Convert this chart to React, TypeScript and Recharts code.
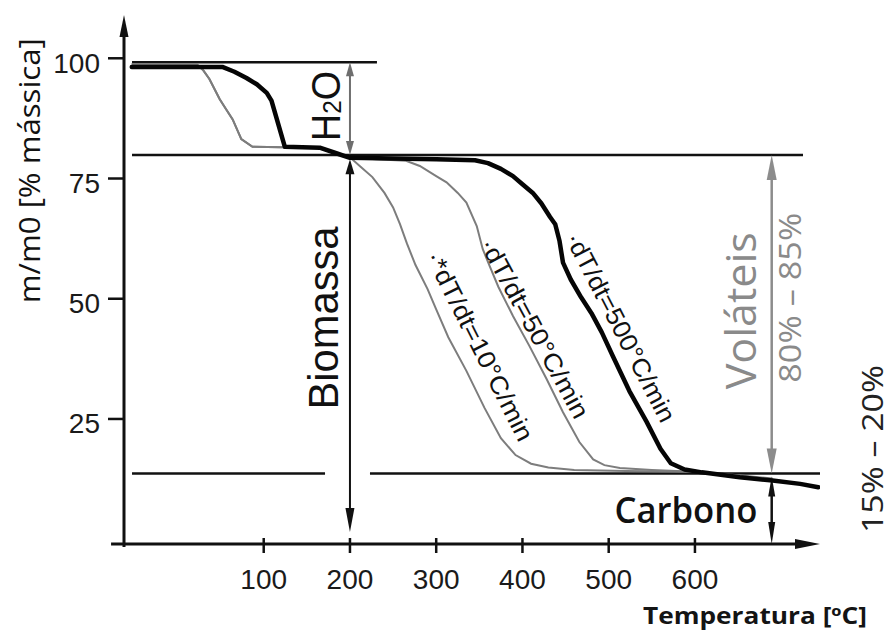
import React from 'react';
import { LineChart, Line, XAxis, YAxis, ReferenceLine, ReferenceDot } from 'recharts';

const X_DOMAIN: [number, number] = [-62, 745];
const Y_DOMAIN: [number, number] = [-1, 109];
const xTicks = [100, 200, 300, 400, 500, 600];
const yTicks = [25, 50, 75, 100];

// mass fraction curves [temperature °C, m/m0 %]
const rate10Pts: [number, number][] = [
  [-53, 98.8], [22, 98.8], [30, 97.5], [37, 95.7], [49, 91.5], [56, 89.5], [64, 87.3], [74, 83.2], [87, 81.6],
  [120, 81.5], [161, 81.5], [185, 80.1], [200, 79.4], [212, 77.5], [226, 75.3], [240, 72.0], [250, 69.0],
  [258, 65.5], [266, 61.5], [276, 57.0], [290, 52.0], [300, 47.8], [314, 42.0], [335, 35.0], [356, 27.3],
  [375, 21.0], [392, 17.5], [410, 15.7], [430, 14.9], [460, 14.4], [520, 14.2], [600, 14.0], [650, 13.3], [690, 12.6],
];
const rate50Pts: [number, number][] = [
  [-53, 98.8], [22, 98.8], [30, 97.5], [37, 95.7], [49, 91.5], [56, 89.5], [64, 87.3], [74, 83.2], [87, 81.6],
  [120, 81.5], [161, 81.5], [185, 80.1], [200, 79.4], [230, 79.0], [265, 78.7], [281, 77.6], [300, 75.5],
  [312, 74.2], [325, 72.0], [335, 70.0], [347, 65.1], [354, 60.3], [362, 56.8], [372, 52.5], [389, 46.4],
  [408, 40.2], [428, 33.3], [447, 26.4], [466, 20.2], [482, 16.6], [495, 15.4], [513, 14.8], [550, 14.4],
  [600, 14.0], [650, 13.2], [690, 12.4],
];
const rate500Pts: [number, number][] = [
  [-53, 98.2], [52, 98.2], [66, 97.2], [80, 95.9], [92, 94.6], [103.5, 92.8], [109, 91.2], [124.5, 81.6],
  [165, 81.4], [185, 80.2], [200, 79.3], [300, 79.0], [345, 78.8], [360, 78.2], [375, 77.0], [389, 75.5],
  [400, 73.8], [412, 72.0], [422, 69.8], [432, 67.0], [438, 65.5], [443, 62.0], [447, 57.5], [456, 54.0],
  [468, 50.3], [480, 47.0], [492, 43.0], [505, 38.0], [524, 30.8], [544, 24.4], [560, 18.8], [572, 15.8],
  [588, 14.5], [608, 13.9], [652, 12.9], [690, 12.2], [722, 11.5], [743, 10.8],
];

// level lines (m/m0 %)
const LEVEL_TOP = 99.2;
const LEVEL_VOL = 79.9;
const LEVEL_CHAR = 13.66;

const toRows = (pts: [number, number][]) => pts.map(([t, m]) => ({ t, m }));
const rate10 = toRows(rate10Pts);
const rate50 = toRows(rate50Pts);
const rate500 = toRows(rate500Pts);

type ArrowOpts = { color: string; width: number; start?: number; end?: number; half?: number };
const arrowShape = (o: ArrowOpts) => (p: any) => {
  const { x1, y1, x2, y2 } = p;
  const dx = x2 - x1;
  const dy = y2 - y1;
  const L = Math.hypot(dx, dy) || 1;
  const ux = dx / L;
  const uy = dy / L;
  const nx = -uy;
  const ny = ux;
  const h = o.half ?? 5;
  const s = o.start ?? 0;
  const e = o.end ?? 0;
  const head = (tx: number, ty: number, ddx: number, ddy: number, len: number) => {
    const bx = tx - ddx * len;
    const by = ty - ddy * len;
    return `${tx},${ty} ${bx + nx * h},${by + ny * h} ${bx - nx * h},${by - ny * h}`;
  };
  return (
    <g>
      <line
        x1={x1 + ux * s * 0.6}
        y1={y1 + uy * s * 0.6}
        x2={x2 - ux * e * 0.6}
        y2={y2 - uy * e * 0.6}
        stroke={o.color}
        strokeWidth={o.width}
      />
      {s > 0 && <polygon points={head(x1, y1, -ux, -uy, s)} fill={o.color} />}
      {e > 0 && <polygon points={head(x2, y2, ux, uy, e)} fill={o.color} />}
    </g>
  );
};

type TextOpts = {
  text: React.ReactNode;
  size: number;
  angle?: number;
  color?: string;
  family?: string;
  weight?: number | string;
  length?: number;
};
const HELV = '"Liberation Sans", Arial, Helvetica, sans-serif';
const OPEN = '"Open Sans", "DejaVu Sans", sans-serif';
const textShape = (o: TextOpts) => (p: any) => (
  <text
    x={p.cx}
    y={p.cy}
    transform={o.angle ? `rotate(${o.angle} ${p.cx} ${p.cy})` : undefined}
    textAnchor="middle"
    dominantBaseline="central"
    fontSize={o.size}
    fill={o.color ?? '#111'}
    fontFamily={o.family ?? HELV}
    fontWeight={o.weight ?? 400}
    textLength={o.length}
    lengthAdjust="spacingAndGlyphs"
  >
    {o.text}
  </text>
);

const XTick = (p: any) => {
  const { x, y, payload } = p;
  return (
    <g>
      <line x1={x} x2={x} y1={y - 15} y2={y} stroke="#111" strokeWidth={2.5} />
      <text x={x} y={y + 36} textAnchor="middle" fontSize={28} fontFamily={HELV} fill="#1a1a1a">
        {payload.value}
      </text>
    </g>
  );
};

const YTick = (p: any) => {
  const { x, y, payload } = p;
  return (
    <g>
      <line x1={x + 8} x2={x + 24} y1={y} y2={y} stroke="#111" strokeWidth={2.5} />
      <text x={x} y={y + 5} textAnchor="end" dominantBaseline="central" fontSize={28} fontFamily={HELV} fill="#1a1a1a">
        {payload.value}
      </text>
    </g>
  );
};

const BLACK = '#111';
const GRAY_CURVE = '#7d7d7d';
const GRAY_TXT = '#8a8a8a';

export default function App() {
  return (
    <div style={{ position: 'absolute', left: 0, top: 0, width: 894, height: 630, background: '#fff' }}>
      <LineChart width={894} height={630} margin={{ top: 15, right: 74, bottom: 46, left: 64 }}>
        <XAxis
          type="number"
          dataKey="t"
          domain={X_DOMAIN}
          ticks={xTicks}
          allowDataOverflow
          axisLine={false}
          tickLine={false}
          tickSize={9}
          tickMargin={0}
          height={40}
          tick={<XTick />}
        />
        <YAxis
          type="number"
          domain={Y_DOMAIN}
          ticks={yTicks}
          allowDataOverflow
          axisLine={false}
          tickLine={false}
          tickSize={16}
          tickMargin={8}
          width={60}
          tick={<YTick />}
        />

        {/* axes with arrows */}
        <ReferenceLine
          segment={[{ x: -62, y: -1.6 }, { x: -62, y: 109 }]}
          ifOverflow="visible"
          shape={arrowShape({ color: BLACK, width: 3, end: 22, half: 4.5 })}
        />
        <ReferenceLine
          segment={[{ x: -77, y: -1 }, { x: 745, y: -1 }]}
          ifOverflow="visible"
          shape={arrowShape({ color: BLACK, width: 3, end: 25, half: 5 })}
        />

        {/* level lines */}
        <ReferenceLine
          segment={[{ x: -52.7, y: LEVEL_TOP }, { x: 231.3, y: LEVEL_TOP }]}
          ifOverflow="visible"
          stroke={BLACK}
          strokeWidth={2.5}
        />
        <ReferenceLine
          segment={[{ x: -52.7, y: LEVEL_VOL }, { x: 725.3, y: LEVEL_VOL }]}
          ifOverflow="visible"
          stroke={BLACK}
          strokeWidth={2.5}
        />
        <ReferenceLine
          segment={[{ x: -52.7, y: LEVEL_CHAR }, { x: 171.1, y: LEVEL_CHAR }]}
          ifOverflow="visible"
          stroke={BLACK}
          strokeWidth={2.5}
        />
        <ReferenceLine
          segment={[{ x: 223.2, y: LEVEL_CHAR }, { x: 745, y: LEVEL_CHAR }]}
          ifOverflow="visible"
          stroke={BLACK}
          strokeWidth={2.5}
        />

        {/* dimension arrows */}
        <ReferenceLine
          segment={[{ x: 200, y: LEVEL_TOP }, { x: 200, y: LEVEL_VOL }]}
          ifOverflow="visible"
          shape={arrowShape({ color: '#6e6e6e', width: 2, start: 14, end: 14, half: 4 })}
        />
        <ReferenceLine
          segment={[{ x: 200, y: 79.0 }, { x: 200, y: 1.5 }]}
          ifOverflow="visible"
          shape={arrowShape({ color: BLACK, width: 2, start: 15, end: 24, half: 4.5 })}
        />
        <ReferenceLine
          segment={[{ x: 689, y: LEVEL_VOL }, { x: 689, y: LEVEL_CHAR }]}
          ifOverflow="visible"
          shape={arrowShape({ color: '#8c8c8c', width: 2.5, start: 25, end: 25, half: 5 })}
        />
        <ReferenceLine
          segment={[{ x: 689, y: LEVEL_CHAR - 0.6 }, { x: 689, y: -1 }]}
          ifOverflow="visible"
          shape={arrowShape({ color: BLACK, width: 2.5, start: 20, end: 22, half: 3.5 })}
        />

        <Line data={rate10} dataKey="m" type="linear" stroke={GRAY_CURVE} strokeWidth={2} dot={false} isAnimationActive={false} />
        <Line data={rate50} dataKey="m" type="linear" stroke={GRAY_CURVE} strokeWidth={2} dot={false} isAnimationActive={false} />
        <Line
          data={rate500}
          dataKey="m"
          type="linear"
          stroke="#050505"
          strokeWidth={4.5}
          strokeLinejoin="round"
          strokeLinecap="round"
          dot={false}
          isAnimationActive={false}
        />

        {/* texts */}
        <ReferenceDot x={-173.3} y={76.6} ifOverflow="visible"
          shape={textShape({ text: 'm/m0 [% mássica]', size: 29, angle: -90, family: OPEN, length: 265 })} />
        <ReferenceDot x={669.6} y={-15.8} ifOverflow="visible"
          shape={textShape({ text: 'Temperatura [ºC]', size: 23, family: OPEN, weight: 700, length: 224, color: '#141414' })} />
        <ReferenceDot x={589.6} y={6.1} ifOverflow="visible"
          shape={textShape({ text: 'Carbono', size: 36, family: OPEN, weight: 600, length: 143 })} />
        <ReferenceDot x={169.9} y={46.0} ifOverflow="visible"
          shape={textShape({ text: 'Biomassa', size: 42, angle: -90, length: 183 })} />
        <ReferenceDot x={172.2} y={90.1} ifOverflow="visible"
          shape={textShape({
            text: (
              <>
                H<tspan fontSize={26} dy={6}>2</tspan><tspan dy={-6}>O</tspan>
              </>
            ),
            size: 40,
            angle: -90,
            length: 70,
          })} />
        <ReferenceDot x={652.2} y={47.5} ifOverflow="visible"
          shape={textShape({ text: 'Voláteis', size: 42, angle: -90, family: OPEN, color: GRAY_TXT, length: 157 })} />
        <ReferenceDot x={709.1} y={50.2} ifOverflow="visible"
          shape={textShape({ text: '80% – 85%', size: 31, angle: -90, family: OPEN, color: GRAY_TXT, length: 170 })} />
        <ReferenceDot x={804.5} y={18.75} ifOverflow="visible"
          shape={textShape({ text: '15% – 20%', size: 29, angle: -90, family: OPEN, color: '#222', length: 168 })} />
        <ReferenceDot x={350.8} y={40.2} ifOverflow="visible"
          shape={textShape({ text: '·*dT/dt=10°C/min', size: 25, angle: 63.3, length: 209 })} />
        <ReferenceDot x={414.5} y={43.9} ifOverflow="visible"
          shape={textShape({ text: '·dT/dt=50°C/min', size: 25, angle: 61.5, length: 201 })} />
        <ReferenceDot x={514.3} y={44.1} ifOverflow="visible"
          shape={textShape({ text: '·dT/dt=500°C/min', size: 25, angle: 62.6, length: 210 })} />
      </LineChart>
    </div>
  );
}
